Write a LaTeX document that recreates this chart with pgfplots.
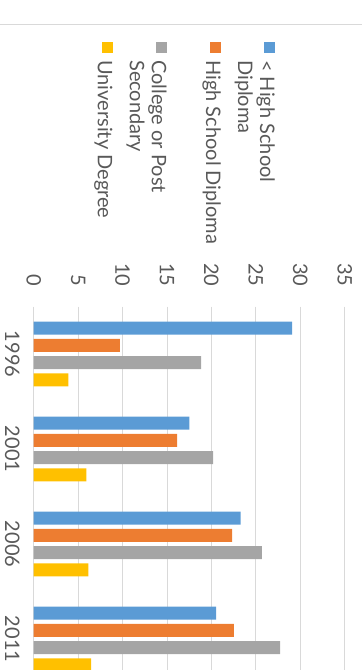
\documentclass[border=0pt]{standalone}
\usepackage{pgfplots}
\pgfplotsset{compat=1.18}
\usepackage{graphicx}
\usepackage{fontspec}
\setmainfont{Lato}
\definecolor{cblue}{HTML}{5B9BD5}
\definecolor{corange}{HTML}{ED7D31}
\definecolor{cgray}{HTML}{A5A5A5}
\definecolor{cyellow}{HTML}{FFC000}
\definecolor{ctext}{HTML}{595959}
\definecolor{cgrid}{HTML}{D9D9D9}
\newcommand{\entry}[1]{\rule[-5pt]{0pt}{20pt}\smash{\parbox[t]{200pt}{\raggedright #1}}}
\begin{document}
\rotatebox{-90}{%
\begin{tikzpicture}[x=1pt,y=1pt]
\useasboundingbox (0,0) rectangle (670,362);
\clip (0,0) rectangle (670,362);
\draw[cgrid, line width=0.8pt] (24,0) -- (24,362);
\begin{axis}[
  at={(306.5pt,33.7pt)}, anchor=south west,
  width=380pt, height=311pt, scale only axis,
  ybar=4.3pt, bar width=13pt,
  xmin=-0.5, xmax=3.5, ymin=0, ymax=35,
  xtick=data, xticklabels={1996,2001,2006,2011},
  ytick={0,5,...,35},
  ymajorgrids, grid style={cgrid, line width=0.8pt},
  axis line style={draw=none},
  major tick length=0pt,
  tick label style={font=\fontsize{20}{22}\selectfont, text=ctext},
  /pgf/number format/assume math mode=true,
  yticklabel style={anchor=east, inner sep=0pt, xshift=-20pt},
  xticklabel style={anchor=north, inner sep=0pt, yshift=-14pt},
  legend cell align=left,
  legend style={at={(-0.696,0.7778)}, anchor=north west, draw=none, fill=none,
    inner sep=0pt, column sep=0pt, row sep=37.5pt,
    nodes={inner sep=0pt},
    font=\fontsize{20}{22}\selectfont, text=ctext},
  legend image code/.code={\fill[#1] (0pt,-2.6pt) rectangle (11pt,8.4pt); \path (18pt,-2.6pt);},
]
\addplot[fill=cblue, draw=none] coordinates {(0,29.07) (1,17.51) (2,23.29) (3,20.52)};
\addplot[fill=corange, draw=none] coordinates {(0,9.71) (1,16.13) (2,22.32) (3,22.54)};
\addplot[fill=cgray, draw=none] coordinates {(0,18.83) (1,20.18) (2,25.69) (3,27.72)};
\addplot[fill=cyellow, draw=none] coordinates {(0,3.89) (1,5.92) (2,6.15) (3,6.45)};
\addlegendentry{\entry{< High School\\Diploma}}
\addlegendentry{\entry{High School Diploma}}
\addlegendentry{\entry{College or Post\\Secondary}}
\addlegendentry{\entry{University Degree}}
\end{axis}
\end{tikzpicture}}
\end{document}
